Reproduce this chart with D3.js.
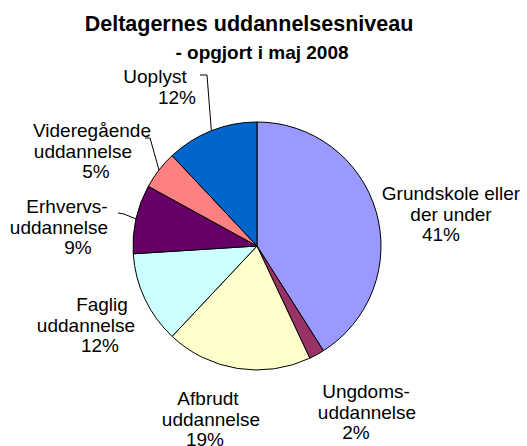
<!DOCTYPE html>
<html>
<head>
<meta charset="utf-8">
<script src="https://cdn.jsdelivr.net/npm/d3@7"></script>
<style>
  body { margin: 0; background: #fff; }
  text { font-family: "Liberation Sans", Arial, sans-serif; fill: #000; }
</style>
</head>
<body>
<div id="chart"></div>
<script>
// data (percent of participants)
const categories = ['Grundskole eller der under', 'Ungdomsuddannelse', 'Afbrudt uddannelse',
  'Faglig uddannelse', 'Erhvervsuddannelse', 'Videregående uddannelse', 'Uoplyst'];
const values = [41, 2, 19, 12, 9, 5, 12];
const labelLines = [
  ['Grundskole eller', 'der under'],
  ['Ungdoms-', 'uddannelse'],
  ['Afbrudt', 'uddannelse'],
  ['Faglig', 'uddannelse'],
  ['Erhvervs-', 'uddannelse'],
  ['Videregående', 'uddannelse'],
  ['Uoplyst']
];
const colors = ['#9999ff', '#993366', '#ffffcc', '#ccffff', '#660066', '#ff8080', '#0066cc'];

const width = 527,
    height = 446,
    cx = 257, cy = 246, radius = 124,
    fontSize = 19,
    lineH = 20.5;

// label placement: centre x of each line, baseline of first line
const labelLayout = [
  { xs: [451, 451, 441], y: 200 },
  { xs: [366, 367, 356], y: 398 },
  { xs: [208, 211, 205], y: 405 },
  { xs: [102, 86, 100], y: 311 },
  { xs: [67, 59, 78], y: 213 },
  { xs: [92, 83, 96], y: 137 },
  { xs: [155, 177], y: 83 }
];
// leader lines (start point near the label, optional bend), only for small slices
const leaders = [null, null, null, null,
  [[118, 213], [124, 214]],
  [[145, 138], [150, 138]],
  [[200, 75], [207, 75]]
];

const svg = d3.select('#chart')
  .append('svg')
  .attr('width', width)
  .attr('height', height);

svg.append('text')
  .attr('x', 249)
  .attr('y', 31)
  .attr('text-anchor', 'middle')
  .style('font-size', '21.5px')
  .style('font-weight', 'bold')
  .text('Deltagernes uddannelsesniveau');

svg.append('text')
  .attr('x', 262)
  .attr('y', 59)
  .attr('text-anchor', 'middle')
  .style('font-size', '19px')
  .style('font-weight', 'bold')
  .text('- opgjort i maj 2008');

const pie = d3.pie().sort(null).value(d => d)(values);
const arc = d3.arc().innerRadius(0).outerRadius(radius);

const chart = svg.append('g')
  .attr('transform', `translate(${cx}, ${cy})`);

chart.selectAll('.slice')
  .data(pie)
  .enter()
  .append('path')
  .attr('class', 'slice')
  .attr('d', arc)
  .attr('fill', (d, i) => colors[i])
  .attr('stroke', '#000')
  .attr('stroke-width', 1)
  .attr('stroke-linejoin', 'round');

// leader lines end on the slice edge at the mid angle
pie.forEach((d, i) => {
  if (!leaders[i]) return;
  const mid = (d.startAngle + d.endAngle) / 2;
  const end = [cx + radius * Math.sin(mid), cy - radius * Math.cos(mid)];
  const pts = leaders[i].concat([end]);
  svg.append('path')
    .attr('d', d3.line()(pts))
    .attr('fill', 'none')
    .attr('stroke', '#000')
    .attr('stroke-width', 1);
});

// labels
pie.forEach((d, i) => {
  const lines = labelLines[i].concat([values[i] + '%']);
  const lay = labelLayout[i];
  const t = svg.append('text')
    .attr('text-anchor', 'middle')
    .style('font-size', fontSize + 'px');
  lines.forEach((s, j) => {
    t.append('tspan')
      .attr('x', lay.xs[j])
      .attr('y', lay.y + j * lineH)
      .text(s);
  });
});
</script>
</body>
</html>
